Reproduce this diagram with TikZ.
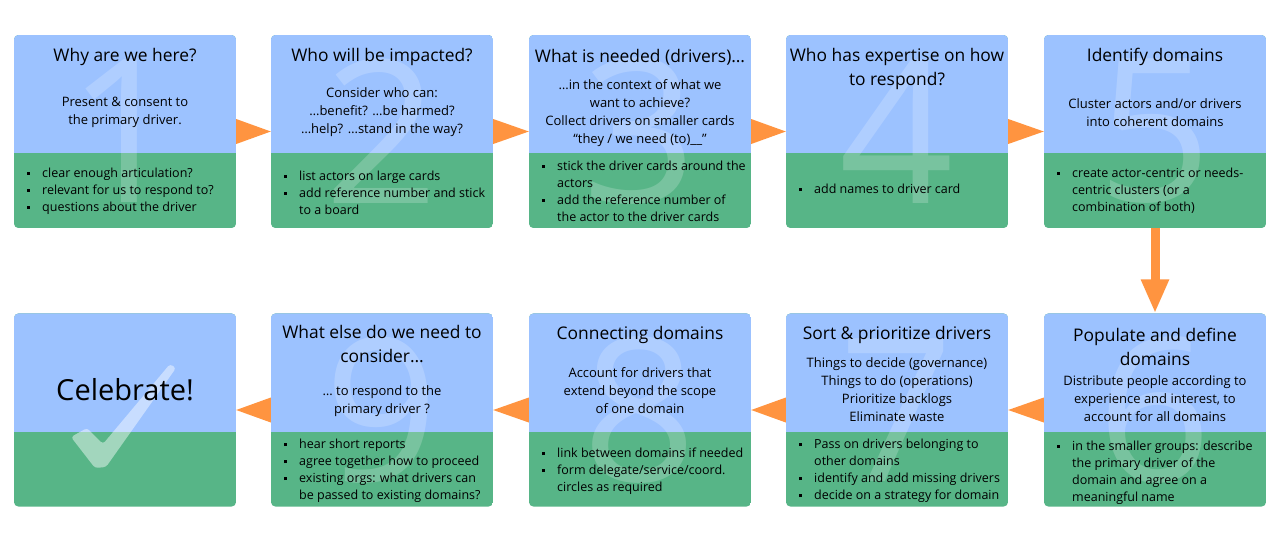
\documentclass[tikz,border=0pt]{standalone}
\usepackage{fontspec}
\setmainfont{Open Sans}
\usetikzlibrary{arrows.meta}
\definecolor{cardblue}{RGB}{156,194,255}
\definecolor{cardgreen}{RGB}{87,181,135}
\definecolor{floworange}{RGB}{255,148,64}
\newcommand\bsq{\rule[2.8pt]{3pt}{3pt}}

\begin{document}
\begin{tikzpicture}[x=1pt,y=-1pt]
		\tikzstyle{card}=[minimum width=222pt,minimum height=193pt,inner sep=0pt]
		\tikzstyle{digit}=[text=white,text opacity=0.2,font=\fontsize{200}{200}\selectfont,inner sep=0pt]
		\tikzstyle{title}=[align=center,font=\fontsize{17.4}{23.5}\selectfont,inner sep=0pt,yshift=-2pt]
		\tikzstyle{body}=[align=center,font=\fontsize{13}{18}\selectfont,inner sep=0pt,yshift=-1.5pt]
		\tikzstyle{bullets}=[anchor=west,font=\fontsize{12.5}{17}\selectfont,inner sep=0pt,yshift=-1.5pt]
		\tikzstyle{flow}=[fill=floworange,draw=none]
		
		\useasboundingbox (0,0) rectangle (1280,542);
		
		% cards, top row left to right, bottom row right to left
		\foreach \n/\x/\y in {1/125/131.5,2/382/131.5,3/640/131.5,4/897/131.5,5/1155/131.5,
			6/1155/410,7/897/410,8/640/410,9/382/410,10/125/410}{
			\node[card] (c\n) at (\x,\y) {};
			\begin{scope}
				\clip[rounded corners=5pt] (c\n.north west) rectangle (c\n.south east);
				\fill[cardgreen] (c\n.north west) rectangle (c\n.south east);
				\fill[cardblue] (c\n.north west) rectangle ([yshift=75pt]c\n.south east);
			\end{scope}
		}
		
		% big step numbers
		\foreach \n in {1,...,9}
			\node[digit] (n\n) at (c\n) {\n};
		\fill[white,opacity=0.45,rounded corners=3pt] (71,437) -- (95,468) -- (106,467) -- (176,368) -- (170,364) -- (103,444) -- (87,428) -- cycle;
		
		% arrows
		\foreach \a/\b in {1/2,2/3,3/4,4/5}
			\fill[flow] ([yshift=12.5pt]c\a.east) -- ([yshift=-12.5pt]c\a.east) -- (c\b.west) -- cycle;
		\foreach \a/\b in {6/7,7/8,8/9,9/10}
			\fill[flow] ([yshift=12.5pt]c\a.west) -- ([yshift=-12.5pt]c\a.west) -- (c\b.east) -- cycle;
		\draw[floworange,line width=9pt,-{Triangle[width=26pt,length=34pt]}] (c5.south) -- (c6.north);
		
		% step 1
		\node[title] (t1) at (125,55) {Why are we here?};
		\node[body] (b1) at (125,111) {Present \& consent to\\the primary driver.};
		\node[bullets] (l1) at (26.5,189.5) {\begin{tabular}{@{}l@{\hspace{12.5pt}}l@{}}
			\bsq & clear enough articulation?\\
			\bsq & relevant for us to respond to?\\
			\bsq & questions about the driver\end{tabular}};
		
		% step 2
		\node[title] (t2) at (382,55) {Who will be impacted?};
		\node[body] (b2) at (382,111) {Consider who can:\\…benefit? …be harmed?\\…help? …stand in the way?};
		\node[bullets] (l2) at (283.5,192.5) {\begin{tabular}{@{}l@{\hspace{12.5pt}}l@{}}
			\bsq & list actors on large cards\\
			\bsq & add reference number and stick\\
			& to a board\end{tabular}};
		
		% step 3
		\node[title] (t3) at (640,55) {What is needed (drivers)…};
		\node[body] (b3) at (640,111.5) {…in the context of what we\\want to achieve?\\Collect drivers on smaller cards\\“they / we need (to)\_\_”};
		\node[bullets] (l3) at (541.5,191) {\begin{tabular}{@{}l@{\hspace{12.5pt}}l@{}}
			\bsq & stick the driver cards around the\\
			& actors\\
			\bsq & add the reference number of\\
			& the actor to the driver cards\end{tabular}};
		
		% step 4
		\node[title] (t4) at (897,67) {Who has expertise on how\\to respond?};
		\node[bullets] (l4) at (798.5,189) {\begin{tabular}{@{}l@{\hspace{12.5pt}}l@{}}
			\bsq & add names to driver card\end{tabular}};
		
		% step 5
		\node[title] (t5) at (1155,55) {Identify domains};
		\node[body] (b5) at (1155,111.5) {Cluster actors and/or drivers\\into coherent domains};
		\node[bullets] (l5) at (1056.5,189.5) {\begin{tabular}{@{}l@{\hspace{12.5pt}}l@{}}
			\bsq & create actor-centric or needs-\\
			& centric clusters (or a\\
			& combination of both)\end{tabular}};
		
		% step 6
		\node[title] (t6) at (1155,345) {Populate and define\\domains};
		\node[body] (b6) at (1155,397.5) {Distribute people according to\\experience and interest, to\\account for all domains};
		\node[bullets] (l6) at (1056.5,471) {\begin{tabular}{@{}l@{\hspace{12.5pt}}l@{}}
			\bsq & in the smaller groups: describe\\
			& the primary driver of the\\
			& domain and agree on a\\
			& meaningful name\end{tabular}};
		
		% step 7
		\node[title] (t7) at (897,333) {Sort \& prioritize drivers};
		\node[body] (b7) at (897,388.5) {Things to decide (governance)\\Things to do (operations)\\Prioritize backlogs\\Eliminate waste};
		\node[bullets] (l7) at (798.5,469.5) {\begin{tabular}{@{}l@{\hspace{12.5pt}}l@{}}
			\bsq & Pass on drivers belonging to\\
			& other domains\\
			\bsq & identify and add missing drivers\\
			\bsq & decide on a strategy for domain\end{tabular}};
		
		% step 8
		\node[title] (t8) at (640,333) {Connecting domains};
		\node[body] (b8) at (640,389.5) {Account for drivers that\\extend beyond the scope\\of one domain};
		\node[bullets] (l8) at (541.5,470) {\begin{tabular}{@{}l@{\hspace{12.5pt}}l@{}}
			\bsq & link between domains if needed\\
			\bsq & form delegate/service/coord.\\
			& circles as required\end{tabular}};
		
		% step 9
		\node[title] (t9) at (382,342) {What else do we need to\\consider…};
		\node[body] (b9) at (382,399.5) {… to respond to the\\primary driver ?};
		\node[bullets] (l9) at (283.5,469.5) {\begin{tabular}{@{}l@{\hspace{12.5pt}}l@{}}
			\bsq & hear short reports\\
			\bsq & agree together how to proceed\\
			\bsq & existing orgs: what drivers can\\
			& be passed to existing domains?\end{tabular}};
		
		% done
		\node[font=\fontsize{29}{31}\selectfont,inner sep=0pt] (t10) at (125,390) {Celebrate!};
\end{tikzpicture}
\end{document}
